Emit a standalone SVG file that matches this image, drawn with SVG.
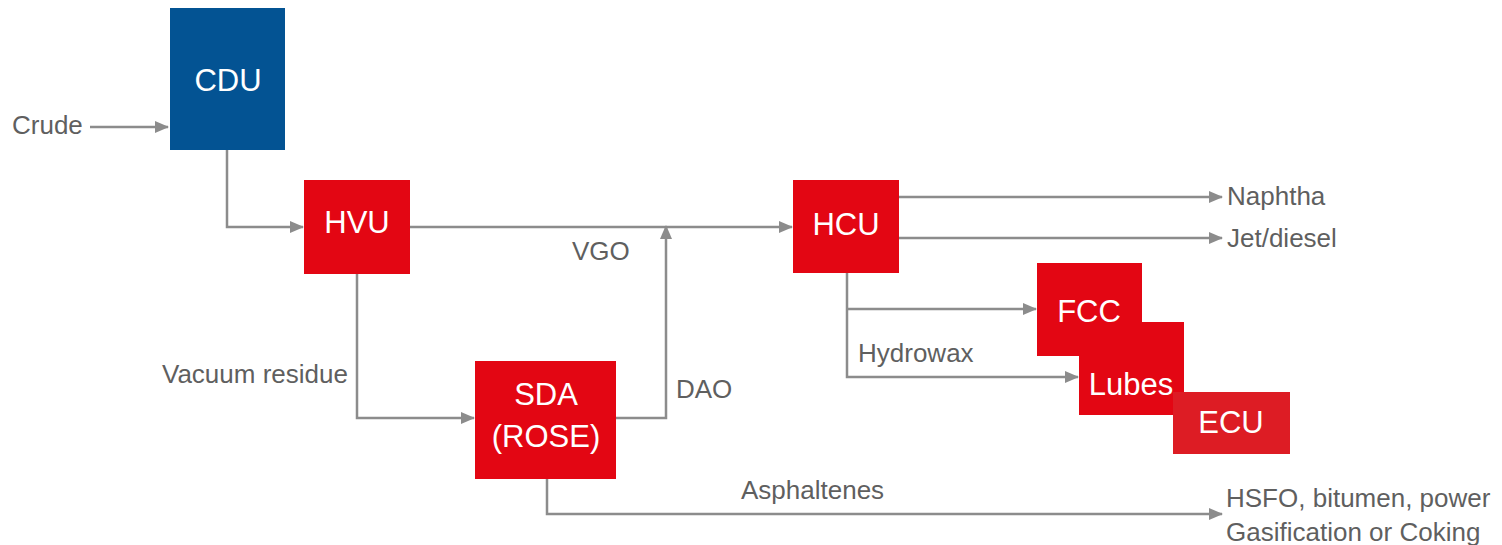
<svg xmlns="http://www.w3.org/2000/svg" width="1502" height="545" viewBox="0 0 1502 545">
<style>
.lbl{font-family:"Liberation Sans",Arial,sans-serif;font-size:26px;fill:#5f5f5f}
.box{font-family:"Liberation Sans",Arial,sans-serif;font-size:31px;fill:#ffffff;text-anchor:middle}
.red{fill:#e30613}
.blue{fill:#035393}
.conn{fill:none;stroke:#8c8c8c;stroke-width:2.5}
</style>
<defs>
<marker id="ah" markerUnits="userSpaceOnUse" markerWidth="14" markerHeight="12" refX="13" refY="6" orient="auto">
<path d="M0,0 L14,6 L0,12 Z" fill="#8c8c8c"/>
</marker>
</defs>
<g id="connectors">
<path class="conn" d="M90,127 H168" marker-end="url(#ah)"/>
<path class="conn" d="M227,150 V227 H303" marker-end="url(#ah)"/>
<path class="conn" d="M410,227 H792" marker-end="url(#ah)"/>
<path class="conn" d="M357,274 V418 H474" marker-end="url(#ah)"/>
<path class="conn" d="M616,418 H666 V226" marker-end="url(#ah)"/>
<path class="conn" d="M547,479 V514 H1222" marker-end="url(#ah)"/>
<path class="conn" d="M899,197 H1222" marker-end="url(#ah)"/>
<path class="conn" d="M899,238 H1222" marker-end="url(#ah)"/>
<path class="conn" d="M847,273 V377 H1078" marker-end="url(#ah)"/>
<path class="conn" d="M847,309 H1036" marker-end="url(#ah)"/>
</g>
<g id="labels">
<text class="lbl" x="12" y="134">Crude</text>
<text class="lbl" x="572" y="260">VGO</text>
<text class="lbl" x="162" y="383">Vacuum residue</text>
<text class="lbl" x="676" y="398">DAO</text>
<text class="lbl" x="858" y="362">Hydrowax</text>
<text class="lbl" x="741" y="499">Asphaltenes</text>
<text class="lbl" x="1227" y="205">Naphtha</text>
<text class="lbl" x="1227" y="247">Jet/diesel</text>
<text class="lbl" x="1226" y="507">HSFO, bitumen, power</text>
<text class="lbl" x="1226" y="541">Gasification or Coking</text>
</g>
<g id="CDU"><rect class="blue" x="170" y="8" width="115" height="142"/><text class="box" x="228" y="91">CDU</text></g>
<g id="HVU"><rect class="red" x="304" y="180" width="106" height="94"/><text class="box" x="357" y="233">HVU</text></g>
<g id="HCU"><rect class="red" x="793" y="180" width="106" height="93"/><text class="box" x="846" y="235">HCU</text></g>
<g id="SDA"><rect class="red" x="475" y="361" width="141" height="118"/><text class="box" x="546" y="405">SDA</text><text class="box" x="546" y="447">(ROSE)</text></g>
<g id="FCC"><rect class="red" x="1037" y="263" width="105" height="93"/><text class="box" x="1089" y="322">FCC</text></g>
<g id="Lubes"><rect class="red" x="1079" y="322" width="105" height="93"/><text class="box" x="1131" y="395">Lubes</text></g>
<g id="ECU"><rect fill="#dd1c24" x="1173" y="392" width="117" height="62"/><text class="box" x="1231" y="433">ECU</text></g>
</svg>
